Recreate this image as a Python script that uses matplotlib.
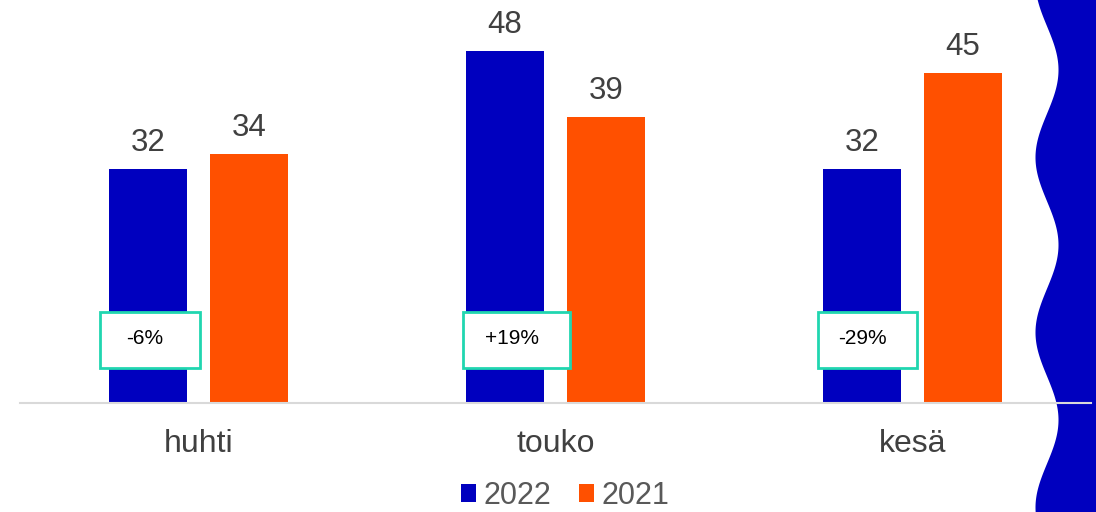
import numpy as np
import matplotlib
matplotlib.use("Agg")
import matplotlib.pyplot as plt
from matplotlib.patches import Rectangle, Polygon

plt.rcParams['font.family'] = ['Liberation Sans', 'DejaVu Sans']

categories = ["huhti", "touko", "kesä"]
values_2022 = [32, 48, 32]
values_2021 = [34, 39, 45]
changes = ["-6%", "+19%", "-29%"]
series_names = ["2022", "2021"]

c2022 = "#0000BF"
c2021 = "#FF5000"
teal = "#20D6B0"

W, H = 1096, 512
fig = plt.figure(figsize=(W / 100, H / 100), dpi=100)

# decorative wavy band on the right
ys = np.linspace(0, H, 400)
xs = 1047 + 11.5 * np.cos(2 * np.pi * (ys - 70) / 175)
pts = [(x / W, 1 - y / H) for x, y in zip(xs, ys)] + [(1, 0), (1, 1)]
fig.patches.append(Polygon(pts, closed=True, transform=fig.transFigure,
                           facecolor=c2022, edgecolor='none', zorder=0))

ax = fig.add_axes([20 / W, (H - 403) / H, (1091 - 20) / W, 403 / H])
ax.set_zorder(2)
ax.patch.set_alpha(0)
x = np.arange(len(categories))
bw = 0.221
off = 0.1415
b1 = ax.bar(x - off, values_2022, bw, color=c2022, label=series_names[0], zorder=2)
b2 = ax.bar(x + off, values_2021, bw, color=c2021, label=series_names[1], zorder=2)
ax.set_xlim(-0.5, 2.5)
ax.set_ylim(0, 55)

for bars in (b1, b2):
    for r in bars:
        ax.text(r.get_x() + r.get_width() / 2, r.get_height() + 1.5, f"{int(r.get_height())}",
                ha='center', va='bottom', fontsize=22.5, color='#404040')

box_dx = [-0.136, -0.108, -0.126]
box_w = [0.28, 0.30, 0.28]
for i, (txt, dx, bwid) in enumerate(zip(changes, box_dx, box_w)):
    cx = x[i] + dx
    ax.add_patch(Rectangle((cx - bwid / 2, 4.8), bwid, 7.6, facecolor='white',
                           edgecolor=teal, linewidth=2, zorder=3))
    ax.text(cx - 0.014, 4.8 + 3.8 + 0.2, txt, ha='center', va='center', fontsize=15,
            color='black', zorder=4)

for s in ['top', 'right', 'left']:
    ax.spines[s].set_visible(False)
ax.spines['bottom'].set_color('#D9D9D9')
ax.spines['bottom'].set_linewidth(1.5)
ax.spines['bottom'].set_zorder(5)
ax.set_yticks([])
ax.set_xticks(x)
ax.set_xticklabels(categories, fontsize=23, color='#404040')
ax.tick_params(axis='x', length=0, pad=19)

fig.legend(handles=[b1, b2], loc='center', bbox_to_anchor=(565 / W, 1 - 496 / H),
           ncol=2, frameon=False, fontsize=22, labelcolor='#595959',
           handlelength=0.5, handleheight=0.5, handletextpad=0.25, columnspacing=0.9)

fig.savefig("out.png", dpi=100)
